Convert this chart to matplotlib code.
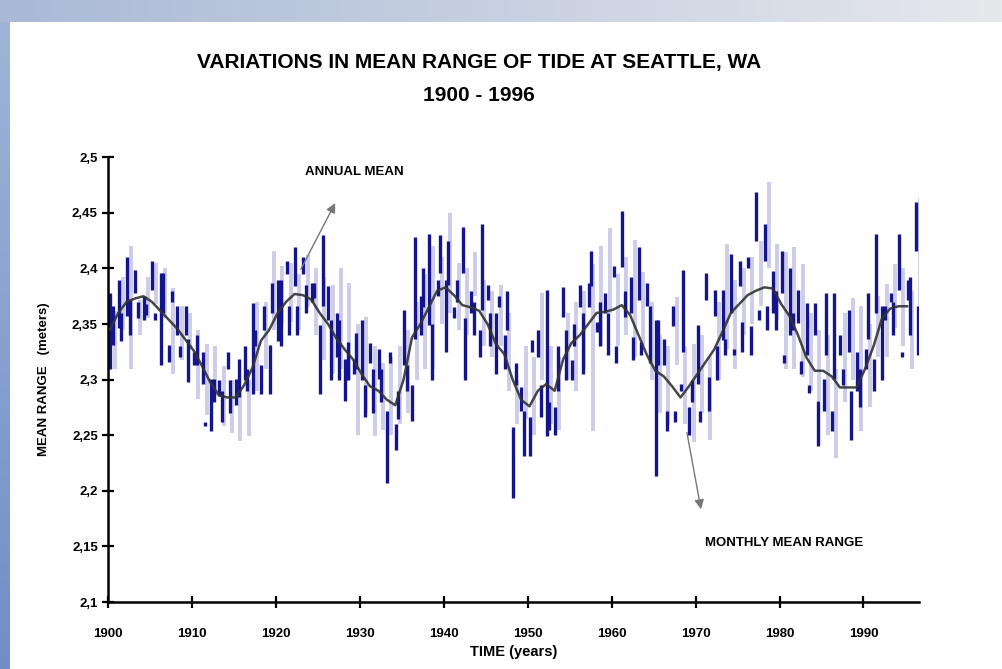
import numpy as np
import matplotlib
matplotlib.use("Agg")
import matplotlib.pyplot as plt
from matplotlib.ticker import FuncFormatter

plt.rcParams['font.family'] = ['Liberation Sans', 'DejaVu Sans']

years = np.arange(1900, 1997)

# monthly mean range, two dark strokes and one light stroke per year (lo, hi)
dark_a_lo = [2.310, 2.346, 2.357, 2.378, 2.354, 2.381, 2.313, 2.316, 2.340, 2.340,
             2.313, 2.296, 2.254, 2.285, 2.310, 2.277, 2.300, 2.287, 2.287, 2.287,
             2.335, 2.395, 2.384, 2.395, 2.370, 2.287, 2.354, 2.320, 2.281, 2.305,
             2.300, 2.315, 2.301, 2.207, 2.237, 2.313, 2.263, 2.340, 2.349, 2.375,
             2.325, 2.355, 2.396, 2.360, 2.320, 2.372, 2.305, 2.310, 2.194, 2.272,
             2.231, 2.320, 2.249, 2.250, 2.356, 2.300, 2.365, 2.365, 2.343, 2.360,
             2.392, 2.401, 2.360, 2.372, 2.366, 2.213, 2.313, 2.348, 2.290, 2.250,
             2.296, 2.372, 2.357, 2.336, 2.360, 2.384, 2.400, 2.425, 2.407, 2.360,
             2.378, 2.340, 2.351, 2.322, 2.340, 2.272, 2.254, 2.322, 2.325, 2.290,
             2.310, 2.290, 2.300, 2.370, 2.381, 2.372, 2.416]
dark_a_hi = [2.378, 2.390, 2.410, 2.399, 2.375, 2.407, 2.396, 2.331, 2.366, 2.366,
             2.325, 2.325, 2.301, 2.300, 2.325, 2.301, 2.330, 2.369, 2.313, 2.331,
             2.390, 2.407, 2.419, 2.410, 2.387, 2.349, 2.384, 2.360, 2.319, 2.319,
             2.354, 2.333, 2.328, 2.272, 2.260, 2.363, 2.295, 2.375, 2.431, 2.390,
             2.390, 2.365, 2.437, 2.380, 2.345, 2.385, 2.360, 2.340, 2.257, 2.293,
             2.266, 2.345, 2.381, 2.275, 2.383, 2.318, 2.385, 2.387, 2.352, 2.378,
             2.402, 2.452, 2.392, 2.419, 2.387, 2.354, 2.337, 2.366, 2.296, 2.275,
             2.349, 2.396, 2.381, 2.381, 2.413, 2.407, 2.410, 2.469, 2.440, 2.398,
             2.416, 2.400, 2.381, 2.369, 2.369, 2.301, 2.272, 2.340, 2.363, 2.325,
             2.328, 2.319, 2.366, 2.378, 2.431, 2.390, 2.460]
dark_b_lo = [2.331, 2.335, 2.340, 2.355, 2.358, 2.354, 2.360, 2.370, 2.320, 2.298,
             2.313, 2.258, 2.280, 2.262, 2.270, 2.284, 2.290, 2.330, 2.345, 2.360,
             2.330, 2.340, 2.340, 2.360, 2.373, 2.366, 2.300, 2.300, 2.300, 2.310,
             2.266, 2.270, 2.280, 2.315, 2.265, 2.290, 2.337, 2.365, 2.300, 2.396,
             2.385, 2.370, 2.300, 2.340, 2.363, 2.330, 2.365, 2.345, 2.295, 2.231,
             2.325, 2.266, 2.255, 2.290, 2.300, 2.330, 2.305, 2.384, 2.330, 2.322,
             2.315, 2.356, 2.318, 2.322, 2.315, 2.313, 2.254, 2.262, 2.325, 2.280,
             2.262, 2.272, 2.300, 2.322, 2.322, 2.325, 2.322, 2.354, 2.345, 2.345,
             2.315, 2.345, 2.305, 2.288, 2.240, 2.322, 2.301, 2.295, 2.246, 2.275,
             2.337, 2.360, 2.354, 2.340, 2.320, 2.340, 2.322]
dark_b_hi = [2.366, 2.360, 2.372, 2.370, 2.368, 2.360, 2.396, 2.380, 2.330, 2.337,
             2.340, 2.262, 2.301, 2.290, 2.300, 2.319, 2.310, 2.345, 2.366, 2.387,
             2.390, 2.366, 2.366, 2.385, 2.387, 2.430, 2.354, 2.354, 2.334, 2.342,
             2.295, 2.310, 2.310, 2.325, 2.290, 2.313, 2.428, 2.400, 2.350, 2.430,
             2.425, 2.390, 2.355, 2.370, 2.440, 2.360, 2.375, 2.380, 2.315, 2.272,
             2.336, 2.295, 2.280, 2.330, 2.345, 2.350, 2.360, 2.416, 2.370, 2.360,
             2.330, 2.380, 2.338, 2.334, 2.366, 2.354, 2.272, 2.272, 2.399, 2.300,
             2.272, 2.302, 2.330, 2.337, 2.328, 2.352, 2.348, 2.363, 2.366, 2.380,
             2.322, 2.360, 2.317, 2.295, 2.281, 2.378, 2.378, 2.310, 2.290, 2.310,
             2.378, 2.431, 2.366, 2.370, 2.325, 2.392, 2.366]
light_lo = [2.310, 2.345, 2.310, 2.340, 2.355, 2.368, 2.355, 2.305, 2.318, 2.327,
            2.283, 2.268, 2.285, 2.258, 2.252, 2.245, 2.249, 2.290, 2.310, 2.345,
            2.350, 2.352, 2.345, 2.365, 2.340, 2.318, 2.305, 2.310, 2.300, 2.250,
            2.270, 2.249, 2.255, 2.250, 2.260, 2.270, 2.300, 2.310, 2.310, 2.350,
            2.360, 2.345, 2.340, 2.375, 2.330, 2.320, 2.330, 2.290, 2.260, 2.265,
            2.250, 2.300, 2.260, 2.255, 2.300, 2.290, 2.310, 2.254, 2.330, 2.360,
            2.330, 2.340, 2.320, 2.330, 2.300, 2.270, 2.260, 2.313, 2.260, 2.244,
            2.270, 2.246, 2.300, 2.328, 2.310, 2.340, 2.350, 2.366, 2.400, 2.354,
            2.310, 2.310, 2.302, 2.290, 2.281, 2.250, 2.230, 2.280, 2.300, 2.254,
            2.275, 2.320, 2.320, 2.346, 2.330, 2.310, 2.350]
light_hi = [2.362, 2.392, 2.420, 2.372, 2.392, 2.405, 2.400, 2.382, 2.366, 2.360,
            2.345, 2.332, 2.330, 2.312, 2.300, 2.290, 2.300, 2.370, 2.370, 2.416,
            2.402, 2.405, 2.395, 2.412, 2.400, 2.392, 2.385, 2.400, 2.387, 2.350,
            2.356, 2.330, 2.315, 2.320, 2.330, 2.345, 2.370, 2.395, 2.420, 2.410,
            2.450, 2.405, 2.400, 2.415, 2.390, 2.380, 2.385, 2.360, 2.300, 2.330,
            2.320, 2.378, 2.330, 2.320, 2.360, 2.370, 2.380, 2.404, 2.420, 2.436,
            2.395, 2.410, 2.426, 2.397, 2.370, 2.340, 2.330, 2.374, 2.330, 2.332,
            2.340, 2.320, 2.370, 2.422, 2.390, 2.400, 2.410, 2.425, 2.478, 2.422,
            2.415, 2.419, 2.404, 2.360, 2.345, 2.340, 2.310, 2.360, 2.373, 2.366,
            2.350, 2.375, 2.386, 2.404, 2.400, 2.380, 2.463]

# annual mean range 1900-1995
annual_years = np.arange(1900, 1996)
annual_mean = [2.345, 2.360, 2.370, 2.373, 2.375, 2.370, 2.362, 2.354, 2.346, 2.336,
               2.326, 2.312, 2.297, 2.286, 2.284, 2.284, 2.295, 2.311, 2.335, 2.345,
               2.360, 2.370, 2.377, 2.376, 2.372, 2.360, 2.350, 2.337, 2.327, 2.318,
               2.305, 2.294, 2.290, 2.282, 2.277, 2.300, 2.338, 2.350, 2.365, 2.380,
               2.383, 2.376, 2.367, 2.365, 2.362, 2.350, 2.332, 2.323, 2.300, 2.282,
               2.276, 2.290, 2.296, 2.290, 2.318, 2.333, 2.340, 2.350, 2.360, 2.361,
               2.363, 2.367, 2.358, 2.340, 2.322, 2.308, 2.303, 2.294, 2.284, 2.294,
               2.305, 2.316, 2.327, 2.343, 2.360, 2.368, 2.376, 2.380, 2.383, 2.382,
               2.368, 2.357, 2.340, 2.320, 2.308, 2.308, 2.303, 2.293, 2.293, 2.293,
               2.310, 2.330, 2.355, 2.364, 2.366, 2.366]

yticks = [2.1, 2.15, 2.2, 2.25, 2.3, 2.35, 2.4, 2.45, 2.5]
xticks = list(range(1900, 1991, 10))

fig = plt.figure(figsize=(10.02, 6.69), dpi=100)

# slide-style frame: blue strip on the left, fading band along the top
bg = fig.add_axes([0, 0, 1, 1], zorder=-10)
bg.set_axis_off()
top = np.linspace(0, 1, 256)[None, :]
left = np.linspace(0, 1, 256)[:, None]
bg.imshow(top, cmap=matplotlib.colors.LinearSegmentedColormap.from_list('t', ['#a9b9d6', '#e6e8ec']),
          extent=[0, 1, 0.967, 1], aspect='auto')
bg.imshow(left, cmap=matplotlib.colors.LinearSegmentedColormap.from_list('l', ['#9fb4d8', '#6f8fc6']),
          extent=[0, 0.0095, 0, 0.967], aspect='auto')
bg.set_xlim(0, 1)
bg.set_ylim(0, 1)

ax = fig.add_axes([0.108, 0.100, 0.809, 0.665])

ax.vlines(years + 0.75, light_lo, light_hi, color='#cdcde8', lw=2.8, zorder=1)
ax.vlines(years + 0.25, dark_a_lo, dark_a_hi, color='#14148c', lw=2.4, zorder=2)
ax.vlines(years + 0.55, dark_b_lo, dark_b_hi, color='#14148c', lw=2.4, zorder=2)
ax.plot(annual_years + 0.2, annual_mean, color='#333333', lw=1.8, alpha=0.9, zorder=3)

ax.set_xlim(1900, 1996.6)
ax.set_ylim(2.1, 2.5)
ax.set_xticks(xticks)
ax.set_yticks(yticks)
ax.yaxis.set_major_formatter(FuncFormatter(lambda v, p: ('%g' % v).replace('.', ',')))
ax.tick_params(direction='inout', length=9, width=1.6, labelsize=9.5)
for lab in ax.get_xticklabels() + ax.get_yticklabels():
    lab.set_fontweight('bold')
ax.tick_params(axis='x', pad=14)
ax.tick_params(axis='y', pad=3)
ax.spines['top'].set_visible(False)
ax.spines['right'].set_visible(False)
ax.spines['left'].set_linewidth(1.8)
ax.spines['bottom'].set_linewidth(1.8)

ax.set_xlabel('TIME (years)', fontsize=10.5, fontweight='bold', labelpad=4)
ax.set_ylabel('MEAN RANGE   (meters)', fontsize=9.5, fontweight='bold', labelpad=16)

fig.text(0.478, 0.907, 'VARIATIONS IN MEAN RANGE OF TIDE AT SEATTLE, WA',
         ha='center', va='center', fontsize=15, fontweight='bold')
fig.text(0.478, 0.857, '1900 - 1996', ha='center', va='center', fontsize=15, fontweight='bold')

ax.annotate('', xy=(1927.2, 2.461), xytext=(1922.8, 2.397),
            arrowprops=dict(arrowstyle='-|>', color='#777777', lw=1.0, mutation_scale=14))
ax.text(1929.3, 2.4865, 'ANNUAL MEAN', ha='center', va='center', fontsize=9.5, fontweight='bold')

ax.annotate('', xy=(1970.7, 2.181), xytext=(1968.9, 2.255),
            arrowprops=dict(arrowstyle='-|>', color='#777777', lw=1.0, mutation_scale=14))
ax.text(1980.6, 2.153, 'MONTHLY MEAN RANGE', ha='center', va='center', fontsize=9.5, fontweight='bold')

fig.savefig('out.png', dpi=100)
